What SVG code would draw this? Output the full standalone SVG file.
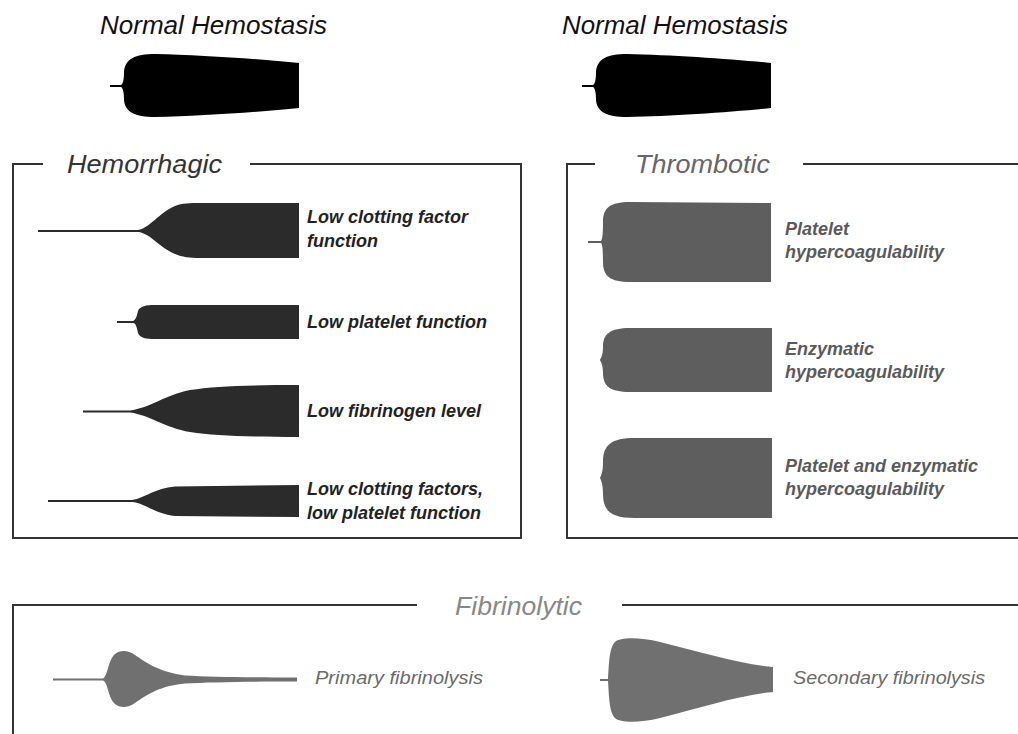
<svg xmlns="http://www.w3.org/2000/svg" width="1018" height="734" viewBox="0 0 1018 734">
<style>
.title{font-family:"Liberation Sans",Arial,sans-serif;font-style:italic;font-size:25px;}
.lbl{font-family:"Liberation Sans",Arial,sans-serif;font-style:italic;font-weight:bold;font-size:18px;fill:#222;}
.tlbl{font-family:"Liberation Sans",Arial,sans-serif;font-style:italic;font-weight:bold;font-size:18px;fill:#5a5a5a;}
.flbl{font-family:"Liberation Sans",Arial,sans-serif;font-style:italic;font-size:18px;fill:#6a6a6a;}
.frame{fill:none;stroke:#333;stroke-width:2;}
.normal{fill:#000;}
.hem{fill:#2b2b2b;}
.thr{fill:#5e5e5e;}
.fib{fill:#707070;}
</style>
<rect width="1018" height="734" fill="#fff"/>
<defs>
<path id="normalShape" d="M110,85 L121,85 C123,84 124,79 124,72 C125,59 135,54 155,54 C200,55 260,59 299,63 L299,108 C260,112 200,116 155,117 C135,117 125,112 124,100 C124,93 123,88 121,87 L110,87 Z"/>
</defs>

<g id="normal-left">
<text class="title" x="100" y="34" fill="#111" textLength="227" lengthAdjust="spacingAndGlyphs">Normal Hemostasis</text>
<use href="#normalShape" class="normal"/>
</g>
<g id="normal-right">
<text class="title" x="562" y="34" fill="#111" textLength="226" lengthAdjust="spacingAndGlyphs">Normal Hemostasis</text>
<use href="#normalShape" class="normal" transform="translate(472,0)"/>
</g>

<g id="hemorrhagic">
<path class="frame" d="M43,164 L13,164 L13,538 L521,538 L521,164 L250,164"/>
<text class="title" x="67" y="173" fill="#333" textLength="155" lengthAdjust="spacingAndGlyphs">Hemorrhagic</text>
<g id="hem-1">
<path class="hem" d="M38,230 L138,230 C150,228 160,212 175,206 C182,203 190,203 200,203 L299,203 L299,258 L200,258 C190,258 182,257 175,254 C160,248 150,233 138,232 L38,232 Z"/>
<text class="lbl" x="307" y="223">Low clotting factor</text>
<text class="lbl" x="307" y="247">function</text>
</g>
<g id="hem-2">
<path class="hem" d="M117,321 L133,321 C136,320 137,315 138,311 C140,306 146,305 155,305 L299,305 L299,339 L155,339 C146,339 140,338 138,333 C137,328 136,323 133,323 L117,323 Z"/>
<text class="lbl" x="307" y="328">Low platelet function</text>
</g>
<g id="hem-3">
<path class="hem" d="M83,410.5 L130,410.5 C150,408 165,395 190,390 C215,386 250,385 299,385 L299,437 C250,437 215,436 190,432 C165,428 150,415 130,412.5 L83,412.5 Z"/>
<text class="lbl" x="307" y="417">Low fibrinogen level</text>
</g>
<g id="hem-4">
<path class="hem" d="M48,500 L132,500 C145,498 155,488 175,486.5 L299,485 L299,517 L175,516 C155,514 145,503 132,502 L48,502 Z"/>
<text class="lbl" x="307" y="495">Low clotting factors,</text>
<text class="lbl" x="307" y="519">low platelet function</text>
</g>
</g>

<g id="thrombotic">
<path class="frame" d="M595,164 L567,164 L567,538 L1018,538"/>
<path class="frame" d="M803,164 L1018,164"/>
<text class="title" x="635" y="173" fill="#666" textLength="135" lengthAdjust="spacingAndGlyphs">Thrombotic</text>
<g id="thr-1">
<path class="thr" d="M588,241 L601,241 C602.5,239 603,233 603,222 C603,208 610,202 630,202 L771,203 L771,282 L630,282 C610,282 603,276 603,262 C603,251 602.5,244 601,243 L588,243 Z"/>
<text class="tlbl" x="785" y="235">Platelet</text>
<text class="tlbl" x="785" y="258">hypercoagulability</text>
</g>
<g id="thr-2">
<path class="thr" d="M600,360 C601.5,357 603,354 603,347 C603,334 610,328 630,328 L772,328 L772,392 L630,392 C610,392 603,386 603,373 C603,366 601.5,363 600,360 Z"/>
<text class="tlbl" x="785" y="355">Enzymatic</text>
<text class="tlbl" x="785" y="378">hypercoagulability</text>
</g>
<g id="thr-3">
<path class="thr" d="M600,478 C601.5,475 603,471 603,462 C603,445 611,438 635,438 L772,438 L772,518 L635,518 C611,518 603,511 603,494 C603,485 601.5,481 600,478 Z"/>
<text class="tlbl" x="785" y="472">Platelet and enzymatic</text>
<text class="tlbl" x="785" y="495">hypercoagulability</text>
</g>
</g>

<g id="fibrinolytic">
<path class="frame" d="M417,605 L13,605 L13,734"/>
<path class="frame" d="M622,605 L1018,605"/>
<text class="title" x="455" y="615" fill="#888" textLength="127" lengthAdjust="spacingAndGlyphs">Fibrinolytic</text>
<g id="fib-1">
<path class="fib" d="M53,678.5 L103,678.5 C108,676 108,660 115,654 C120,650 128,650 135,655 C148,664 160,672 185,675.5 C210,677 250,677.5 297,677.5 L297,681.5 C250,681.5 210,682 185,683.5 C160,686 148,694 135,703 C128,708 120,708 115,704 C108,698 108,682 103,680.5 L53,680.5 Z"/>
<text class="flbl" x="315" y="684" textLength="168" lengthAdjust="spacingAndGlyphs">Primary fibrinolysis</text>
</g>
<g id="fib-2">
<path class="fib" d="M600,679 L608,679 C609,665 609,648 615,642 C620,637 640,637 660,642 C700,652 740,664 773,667 L773,692 C740,695 700,708 660,718 C640,723 620,723 615,718 C609,712 609,695 608,681 L600,681 Z"/>
<text class="flbl" x="793" y="684" textLength="192" lengthAdjust="spacingAndGlyphs">Secondary fibrinolysis</text>
</g>
</g>
</svg>
